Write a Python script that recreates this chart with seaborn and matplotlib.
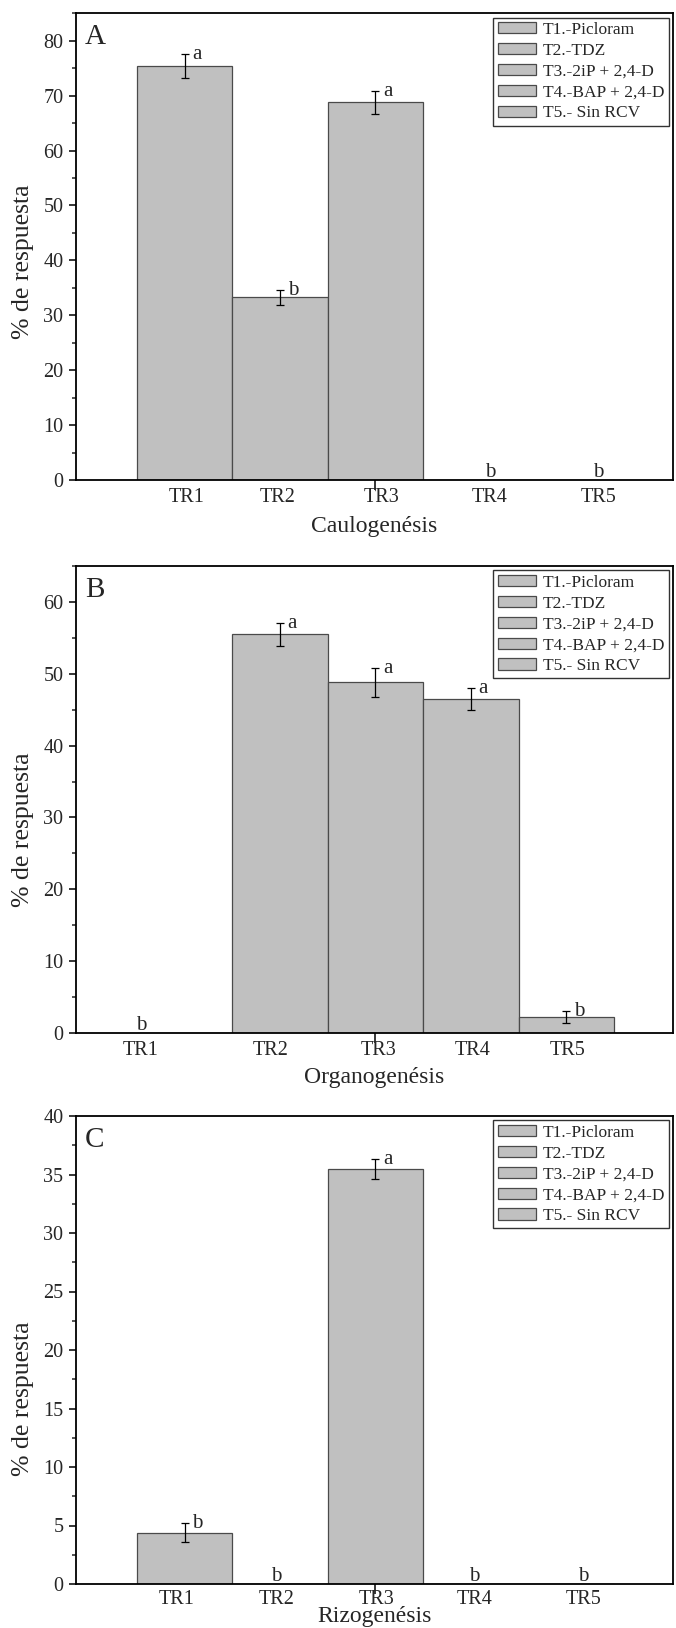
import matplotlib
matplotlib.use("Agg")
import matplotlib.pyplot as plt
import numpy as np
import pandas as pd
import seaborn as sns
from matplotlib.ticker import MultipleLocator

# --- data -------------------------------------------------------------
tratamientos = ["TR1", "TR2", "TR3", "TR4", "TR5"]
leyenda = ["T1.-Picloram", "T2.-TDZ", "T3.-2iP + 2,4-D",
           "T4.-BAP + 2,4-D", "T5.- Sin RCV"]

caulo = [75.4, 33.3, 68.8, 0.0, 0.0]
caulo_err = [2.2, 1.35, 2.1, 0.0, 0.0]
caulo_let = ["a", "b", "a", "b", "b"]

organo = [0.0, 55.5, 48.8, 46.5, 2.2]
organo_err = [0.0, 1.6, 2.0, 1.5, 0.8]
organo_let = ["b", "a", "a", "a", "b"]

rizo = [4.4, 0.0, 35.5, 0.0, 0.0]
rizo_err = [0.8, 0.0, 0.85, 0.0, 0.0]
rizo_let = ["b", "b", "a", "b", "b"]

paneles = ["A", "B", "C"]
xlabels = ["Caulogenésis", "Organogenésis", "Rizogenésis"]

# --- style ------------------------------------------------------------
sns.set_style("ticks")
plt.rcParams["font.family"] = ["Liberation Serif", "DejaVu Serif"]
plt.rcParams["axes.linewidth"] = 1.3

GRIS = "#c0c0c0"
BORDE = "#4a4a4a"

fig = plt.figure(figsize=(6.76, 16.28), dpi=100)
H = 1628.0
W = 676.0
left, right = 76 / W, 673 / W
# (top px, bottom px) of each panel
cajas = [(13.3, 480.0), (566.0, 1033.0), (1116.0, 1584.0)]
ylims = [85, 65, 40]
ymajor = [10, 10, 5]
# tick label placement along the category axis
label_pos = [
    [0.02, 0.97, 2.06, 3.20, 4.34],
    [-0.46, 0.90, 2.03, 3.02, 4.01],
    [-0.08, 0.96, 2.01, 3.04, 4.18],
]
tick_pad = [6, 6, 4]
ylabel_y = [0.467, 0.435, 0.395]
xlabel_y = [-0.100, -0.096, -0.070]

series = [(caulo, caulo_err, caulo_let),
          (organo, organo_err, organo_let),
          (rizo, rizo_err, rizo_let)]

for k, ((vals, errs, lets), (top, bot)) in enumerate(zip(series, cajas)):
    ax = fig.add_axes([left, 1 - bot / H, right - left, (bot - top) / H])
    df = pd.DataFrame({"Tratamiento": tratamientos,
                       "Grupo": leyenda,
                       "Respuesta": vals})
    sns.barplot(data=df, x="Tratamiento", y="Respuesta", hue="Grupo",
                palette=[GRIS] * 5, dodge=False, width=1.0,
                edgecolor=BORDE, linewidth=0.9, errorbar=None,
                saturation=1, ax=ax)

    xs = np.arange(len(vals))
    v = np.array(vals)
    e = np.array(errs)
    m = e > 0
    ax.errorbar(xs[m], v[m], yerr=e[m], fmt="none", ecolor="black",
                elinewidth=0.9, capsize=3, capthick=0.9, zorder=5)

    for i, (val, err, let) in enumerate(zip(vals, errs, lets)):
        if val > 0:
            ax.annotate(let, xy=(i, val + err), xytext=(5.5, -3.5),
                        textcoords="offset points", ha="left",
                        va="baseline", fontsize=15)
        else:
            ax.annotate(let, xy=(label_pos[k][i], 0), xytext=(0, 2.5),
                        textcoords="offset points", ha="center",
                        va="baseline", fontsize=15)

    ax.set_xlim(-1.14, 5.12)
    ax.set_ylim(0, ylims[k])
    ax.yaxis.set_major_locator(MultipleLocator(ymajor[k]))
    ax.yaxis.set_minor_locator(MultipleLocator(ymajor[k] / 2))

    ax.xaxis.remove_overlapping_locs = False
    ax.set_xticks([2])
    ax.set_xticklabels([""])
    ax.set_xticks(label_pos[k], minor=True)
    ax.set_xticklabels(tratamientos, minor=True)
    ax.tick_params(axis="x", which="minor", length=0, pad=tick_pad[k],
                   labelsize=14.5)
    ax.tick_params(axis="x", which="major", length=7, width=1.3,
                   direction="out")
    ax.tick_params(axis="y", which="major", length=5, width=1.3,
                   direction="out", labelsize=14.5, pad=4)
    ax.tick_params(axis="y", which="minor", length=3, width=1.1,
                   direction="out")

    for s in ax.spines.values():
        s.set_visible(True)
        s.set_color("black")
        s.set_linewidth(1.3)

    ax.set_ylabel("% de respuesta", fontsize=18.5)
    ax.yaxis.set_label_coords(-0.070, ylabel_y[k])
    ax.set_xlabel(xlabels[k], fontsize=17)
    ax.xaxis.label.set_va("center")
    ax.xaxis.set_label_coords(0.5, xlabel_y[k])

    ax.text(0.015, 0.977, paneles[k], transform=ax.transAxes,
            ha="left", va="top", fontsize=21)

    handles, labels = ax.get_legend_handles_labels()
    for h in handles:
        h.set_edgecolor(BORDE)
        h.set_linewidth(0.9)
    leg = ax.legend(handles, labels, loc="upper right",
                    bbox_to_anchor=(1.0, 1.0), borderaxespad=0.25,
                    fontsize=12.5, handlelength=2.2, handleheight=0.6,
                    handletextpad=0.4, labelspacing=0.28, borderpad=0.25,
                    fancybox=False, frameon=True)
    leg.get_frame().set_edgecolor("black")
    leg.get_frame().set_linewidth(1.0)

fig.savefig("out.png", dpi=100)
